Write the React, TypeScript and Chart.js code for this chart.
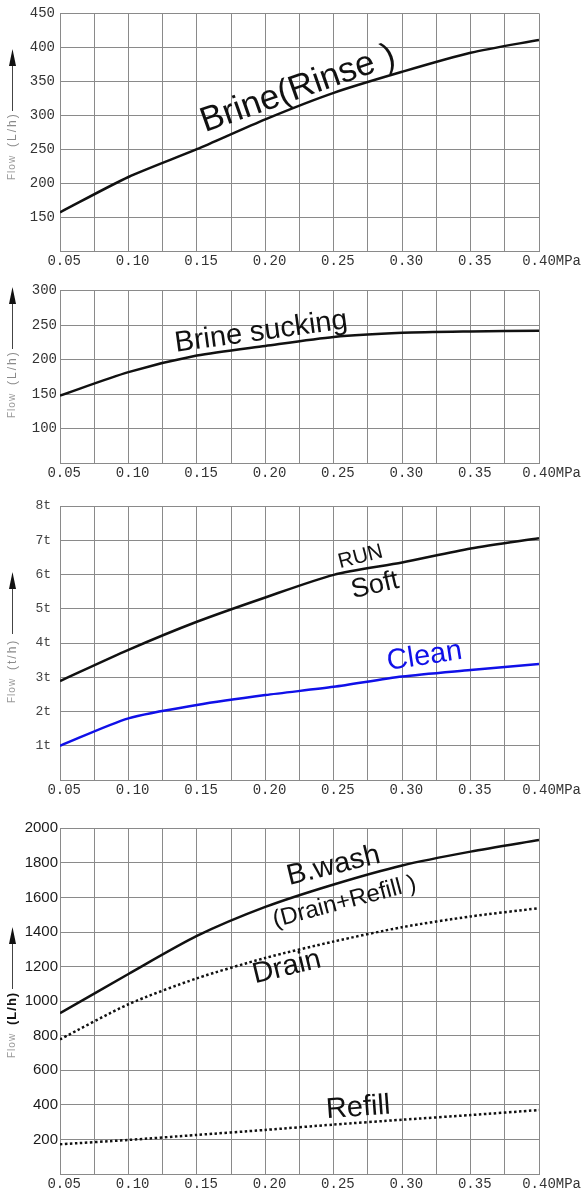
import React, { useEffect, useRef } from 'react';
import { Chart, registerables } from 'chart.js';

Chart.register(...registerables);

// ---------- data ----------
const pressure = [0.05, 0.1, 0.15, 0.2, 0.25, 0.3, 0.35, 0.4];
const xTickLabels = ['0.05', '0.10', '0.15', '0.20', '0.25', '0.30', '0.35', '0.40MPa'];

const brineRinse = [157, 209, 250, 294, 333, 364, 392, 411];
const brineSucking = [148, 182, 206, 220, 233, 239, 241, 242];
const runSoft = [2.89, 3.8, 4.62, 5.33, 5.99, 6.35, 6.76, 7.06];
const clean = [1.0, 1.8, 2.19, 2.48, 2.72, 3.02, 3.21, 3.39];
const backwash = [930, 1157, 1377, 1545, 1675, 1785, 1865, 1932];
const drain = [779, 982, 1132, 1250, 1345, 1428, 1490, 1538];
const refill = [172, 197, 226, 255, 286, 314, 341, 370];

const yRange1 = { min: 100, max: 450, step: 50 };
const yRange2 = { min: 50, max: 300, step: 50 };
const yRange3 = { min: 0, max: 8, step: 1 };
const yRange4 = { min: 0, max: 2000, step: 200 };

// ---------- helpers ----------
const toPoints = (vals: number[]) => pressure.map((p, i) => ({ x: p, y: vals[i] }));

const GRID = '#8a8a8a';
const SANS = '"Liberation Sans", Arial, sans-serif';
const MONO = '"Liberation Mono", "Courier New", monospace';

type Note = { text: string; x: number; y: number; angle: number; size: number; color: string };

type PanelCfg = {
  top: number;
  height: number;
  padTop: number;
  padBottom: number;
  yRange: { min: number; max: number; step: number };
  yFmt: (v: number) => string;
  yFont: any;
  yColor: string;
  yPad: number;
  datasets: any[];
  notes: Note[];
  titleBase: number;
  unit: string;
  boldUnit: boolean;
};

function drawAxisTitle(ctx: CanvasRenderingContext2D, base: number, unit: string, boldUnit: boolean) {
  ctx.save();
  ctx.translate(12.5, base);
  ctx.rotate(-Math.PI / 2);
  ctx.textBaseline = 'middle';
  ctx.textAlign = 'left';
  ctx.fillStyle = '#9a9a9a';
  ctx.font = `10px ${SANS}`;
  (ctx as any).letterSpacing = '1px';
  ctx.fillText('Flow', 0, 0);
  if (boldUnit) {
    ctx.font = `bold 13px ${SANS}`;
    ctx.fillStyle = '#111';
    (ctx as any).letterSpacing = '1px';
  } else {
    ctx.font = `12px ${SANS}`;
    ctx.fillStyle = '#8a8a8a';
    (ctx as any).letterSpacing = '2px';
  }
  ctx.fillText(unit, 33, 0);
  (ctx as any).letterSpacing = '0px';
  ctx.strokeStyle = '#444';
  ctx.lineWidth = 1;
  ctx.beginPath();
  ctx.moveTo(69, 0);
  ctx.lineTo(118, 0);
  ctx.stroke();
  ctx.fillStyle = '#111';
  ctx.beginPath();
  ctx.moveTo(131, 0);
  ctx.lineTo(114, -3.5);
  ctx.lineTo(114, 3.5);
  ctx.closePath();
  ctx.fill();
  ctx.restore();
}

function Panel({ cfg }: { cfg: PanelCfg }) {
  const ref = useRef<HTMLCanvasElement>(null);
  useEffect(() => {
    const canvas = ref.current;
    if (!canvas) return;
    const overlay = {
      id: 'overlay',
      afterDatasetsDraw(chart: any) {
        const { ctx, scales } = chart;
        const xs = scales.x;
        const ys = scales.y;
        cfg.notes.forEach((n) => {
          ctx.save();
          ctx.translate(xs.getPixelForValue(n.x), ys.getPixelForValue(n.y));
          ctx.rotate((n.angle * Math.PI) / 180);
          ctx.font = `${n.size}px ${SANS}`;
          ctx.fillStyle = n.color;
          ctx.textAlign = 'left';
          ctx.textBaseline = 'alphabetic';
          ctx.fillText(n.text, 0, 0);
          ctx.restore();
        });
        drawAxisTitle(ctx, cfg.titleBase, cfg.unit, cfg.boldUnit);
      },
    };
    const chart = new Chart(canvas, {
      type: 'line',
      data: { datasets: cfg.datasets },
      options: {
        animation: false,
        responsive: false,
        devicePixelRatio: 1,
        layout: { padding: { top: cfg.padTop, bottom: cfg.padBottom, left: 0, right: 45 } },
        plugins: { legend: { display: false }, tooltip: { enabled: false } },
        elements: { point: { radius: 0 } },
        scales: {
          x: {
            type: 'linear',
            min: 0.05,
            max: 0.4,
            grid: { color: GRID, lineWidth: 1, drawTicks: false },
            border: { color: GRID, width: 1 },
            afterFit: (s: any) => {
              s.height = 19;
            },
            ticks: {
              stepSize: 0.025,
              autoSkip: false,
              maxRotation: 0,
              minRotation: 0,
              padding: 2,
              color: '#333',
              font: { family: MONO, size: 14 },
              callback: (v: any) => {
                const k = Math.round(Number(v) * 1000);
                if (k % 50 !== 0) return '';
                const idx = (k - 50) / 50;
                const lab = xTickLabels[idx];
                if (lab === undefined) return '';
                return idx === xTickLabels.length - 1 ? '   ' + lab : ' ' + lab;
              },
            },
          },
          y: {
            type: 'linear',
            min: cfg.yRange.min,
            max: cfg.yRange.max,
            grid: { color: GRID, lineWidth: 1, drawTicks: false },
            border: { color: GRID, width: 1 },
            afterFit: (s: any) => {
              s.width = 60;
            },
            ticks: {
              stepSize: cfg.yRange.step,
              autoSkip: false,
              padding: cfg.yPad,
              color: cfg.yColor,
              font: cfg.yFont,
              callback: (v: any) => cfg.yFmt(Number(v)),
            },
          },
        },
      },
      plugins: [overlay],
    } as any);
    return () => chart.destroy();
  }, [cfg]);
  return (
    <canvas
      ref={ref}
      width={584}
      height={cfg.height}
      style={{ position: 'absolute', left: 0, top: cfg.top, width: 584, height: cfg.height, display: 'block' }}
    />
  );
}

const solid = (vals: number[], color: string) => ({
  data: toPoints(vals),
  borderColor: color,
  borderWidth: 2.5,
  tension: 0.25,
  fill: false,
  pointRadius: 0,
});
const dotted = (vals: number[]) => ({
  data: toPoints(vals),
  borderColor: '#111',
  borderWidth: 2.5,
  borderDash: [2.5, 2.5],
  tension: 0.25,
  fill: false,
  pointRadius: 0,
});

const panels: PanelCfg[] = [
  {
    top: 0,
    height: 275,
    padTop: 9,
    padBottom: 5,
    yRange: yRange1,
    yFmt: (v) => (v === yRange1.min ? '' : String(v)),
    yFont: { family: MONO, size: 14 },
    yColor: '#333',
    yPad: 5,
    datasets: [solid(brineRinse, '#111')],
    notes: [{ text: 'Brine(Rinse )', x: 0.156, y: 275, angle: -19.5, size: 35, color: '#111' }],
    titleBase: 180,
    unit: '(L/h)',
    boldUnit: false,
  },
  {
    top: 275,
    height: 211,
    padTop: 15.7,
    padBottom: 3.7,
    yRange: yRange2,
    yFmt: (v) => (v === yRange2.min ? '' : String(v)),
    yFont: { family: MONO, size: 14 },
    yColor: '#333',
    yPad: 3,
    datasets: [solid(brineSucking, '#111')],
    notes: [{ text: 'Brine sucking', x: 0.1348, y: 211.6, angle: -7.8, size: 29, color: '#111' }],
    titleBase: 143,
    unit: '(L/h)',
    boldUnit: false,
  },
  {
    top: 486,
    height: 318,
    padTop: 20,
    padBottom: 5,
    yRange: yRange3,
    yFmt: (v) => (v === yRange3.min ? '' : v + 't'),
    yFont: { family: MONO, size: 13 },
    yColor: '#444',
    yPad: 9,
    datasets: [solid(runSoft, '#111'), solid(clean, '#1010e8')],
    notes: [
      { text: 'RUN', x: 0.2546, y: 6.18, angle: -14.5, size: 21, color: '#111' },
      { text: 'Soft', x: 0.2643, y: 5.305, angle: -13, size: 27, color: '#111' },
      { text: 'Clean', x: 0.2899, y: 3.21, angle: -8.7, size: 29, color: '#1010e8' },
    ],
    titleBase: 217,
    unit: '(t/h)',
    boldUnit: false,
  },
  {
    top: 804,
    height: 389,
    padTop: 24.3,
    padBottom: 0,
    yRange: yRange4,
    yFmt: (v) => (v === yRange4.min ? '' : String(v)),
    yFont: { family: SANS, size: 15 },
    yColor: '#1a1a1a',
    yPad: 2,
    datasets: [solid(backwash, '#111'), dotted(drain), dotted(refill)],
    notes: [
      { text: 'B.wash', x: 0.2175, y: 1672, angle: -13.8, size: 29, color: '#111' },
      { text: '(Drain+Refill )', x: 0.2071, y: 1427, angle: -14.8, size: 24, color: '#111' },
      { text: 'Drain', x: 0.1925, y: 1103, angle: -13.7, size: 29, color: '#111' },
      { text: 'Refill', x: 0.2449, y: 322, angle: -4.3, size: 29, color: '#111' },
    ],
    titleBase: 254,
    unit: '(L/h)',
    boldUnit: true,
  },
];

export default function App() {
  return (
    <div style={{ position: 'absolute', left: 0, top: 0, width: 584, height: 1193, background: '#fff' }}>
      {panels.map((p, i) => (
        <Panel key={i} cfg={p} />
      ))}
    </div>
  );
}
